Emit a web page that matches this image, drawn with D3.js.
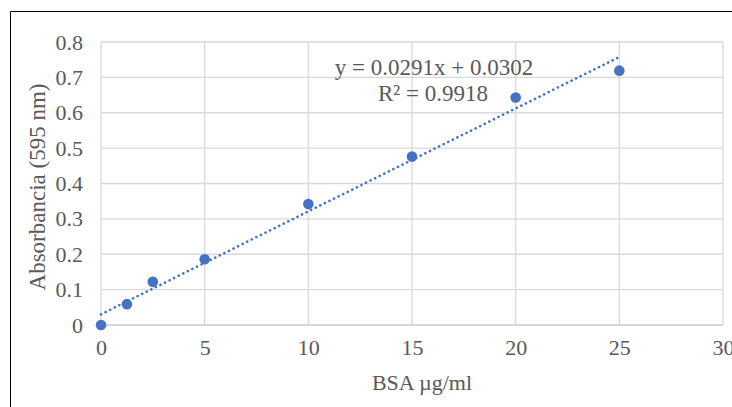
<!DOCTYPE html>
<html>
<head>
<meta charset="utf-8">
<script src="https://cdn.jsdelivr.net/npm/d3@7"></script>
<style>
  body { margin: 0; background: #fff; }
  svg text { font-family: "Liberation Serif", "Times New Roman", serif; fill: #595959; }
</style>
</head>
<body>
<svg id="chart" width="732" height="407"></svg>
<script>
// --- data ---
var conc = [0, 1.25, 2.5, 5, 10, 15, 20, 25];
var absorb = [0, 0.059, 0.122, 0.186, 0.342, 0.476, 0.643, 0.719];
var xTicks = [0, 5, 10, 15, 20, 25, 30];
var yTicks = [0, 0.1, 0.2, 0.3, 0.4, 0.5, 0.6, 0.7, 0.8];
// trendline as printed on the chart
var slope = 0.0291, intercept = 0.0302;
var eqLabel = "y = 0.0291x + 0.0302";
var r2Label = "R² = 0.9918";

var svg = d3.select("#chart");
var blue = "#4472c4";
var fs = "22px";

// outer frame (only top and left visible)
svg.append("line").attr("x1", 10.5).attr("y1", 11.5).attr("x2", 732).attr("y2", 11.5)
  .attr("stroke", "#000").attr("stroke-width", 1);
svg.append("line").attr("x1", 10.5).attr("y1", 11.5).attr("x2", 10.5).attr("y2", 407)
  .attr("stroke", "#000").attr("stroke-width", 1);

var x = d3.scaleLinear().domain([0, 30]).range([101, 723]);
var y = d3.scaleLinear().domain([0, 0.8]).range([325, 42]);

// grid
svg.append("g").selectAll("line").data(xTicks).enter().append("line")
  .attr("x1", function (d) { return x(d); }).attr("x2", function (d) { return x(d); })
  .attr("y1", y(0)).attr("y2", y(0.8))
  .attr("stroke", "#d9d9d9").attr("stroke-width", 1.3);
svg.append("g").selectAll("line").data(yTicks).enter().append("line")
  .attr("x1", x(0)).attr("x2", x(30))
  .attr("y1", function (d) { return y(d); }).attr("y2", function (d) { return y(d); })
  .attr("stroke", function (d) { return d === 0 ? "#c9c9c9" : "#d9d9d9"; })
  .attr("stroke-width", 1.3);

// axes (labels only)
var xAxis = svg.append("g").attr("transform", "translate(0," + y(0) + ")")
  .call(d3.axisBottom(x).tickValues(xTicks).tickFormat(d3.format("d")).tickSize(0).tickPadding(14));
var yAxis = svg.append("g").attr("transform", "translate(" + x(0) + ",0)")
  .call(d3.axisLeft(y).tickValues(yTicks).tickFormat(function (d) { return d === 0 ? "0" : d3.format(".1f")(d); })
    .tickSize(0).tickPadding(18));
[xAxis, yAxis].forEach(function (a) {
  a.select(".domain").remove();
  a.selectAll("text").style("font-size", fs).style("font-family", "Liberation Serif, serif").attr("fill", "#595959");
});

// axis titles
svg.append("text").attr("x", 422).attr("y", 390).attr("text-anchor", "middle")
  .style("font-size", fs).text("BSA µg/ml");
svg.append("text").attr("transform", "translate(45,187) rotate(-90)").attr("text-anchor", "middle")
  .style("font-size", "23px").text("Absorbancia (595 nm)");

// trendline
svg.append("line")
  .attr("x1", x(0)).attr("y1", y(intercept))
  .attr("x2", x(25)).attr("y2", y(slope * 25 + intercept))
  .attr("stroke", blue).attr("stroke-width", 2.6)
  .attr("stroke-dasharray", "0.1,5").attr("stroke-linecap", "round");

// points
svg.append("g").selectAll("circle").data(conc).enter().append("circle")
  .attr("cx", function (d) { return x(d); })
  .attr("cy", function (d, i) { return y(absorb[i]); })
  .attr("r", 5.3).attr("fill", blue);

// equation labels
svg.append("text").attr("x", 434).attr("y", 75).attr("text-anchor", "middle")
  .style("font-size", "23px").text(eqLabel);
svg.append("text").attr("x", 433).attr("y", 101).attr("text-anchor", "middle")
  .style("font-size", "23px").text(r2Label);
</script>
</body>
</html>
